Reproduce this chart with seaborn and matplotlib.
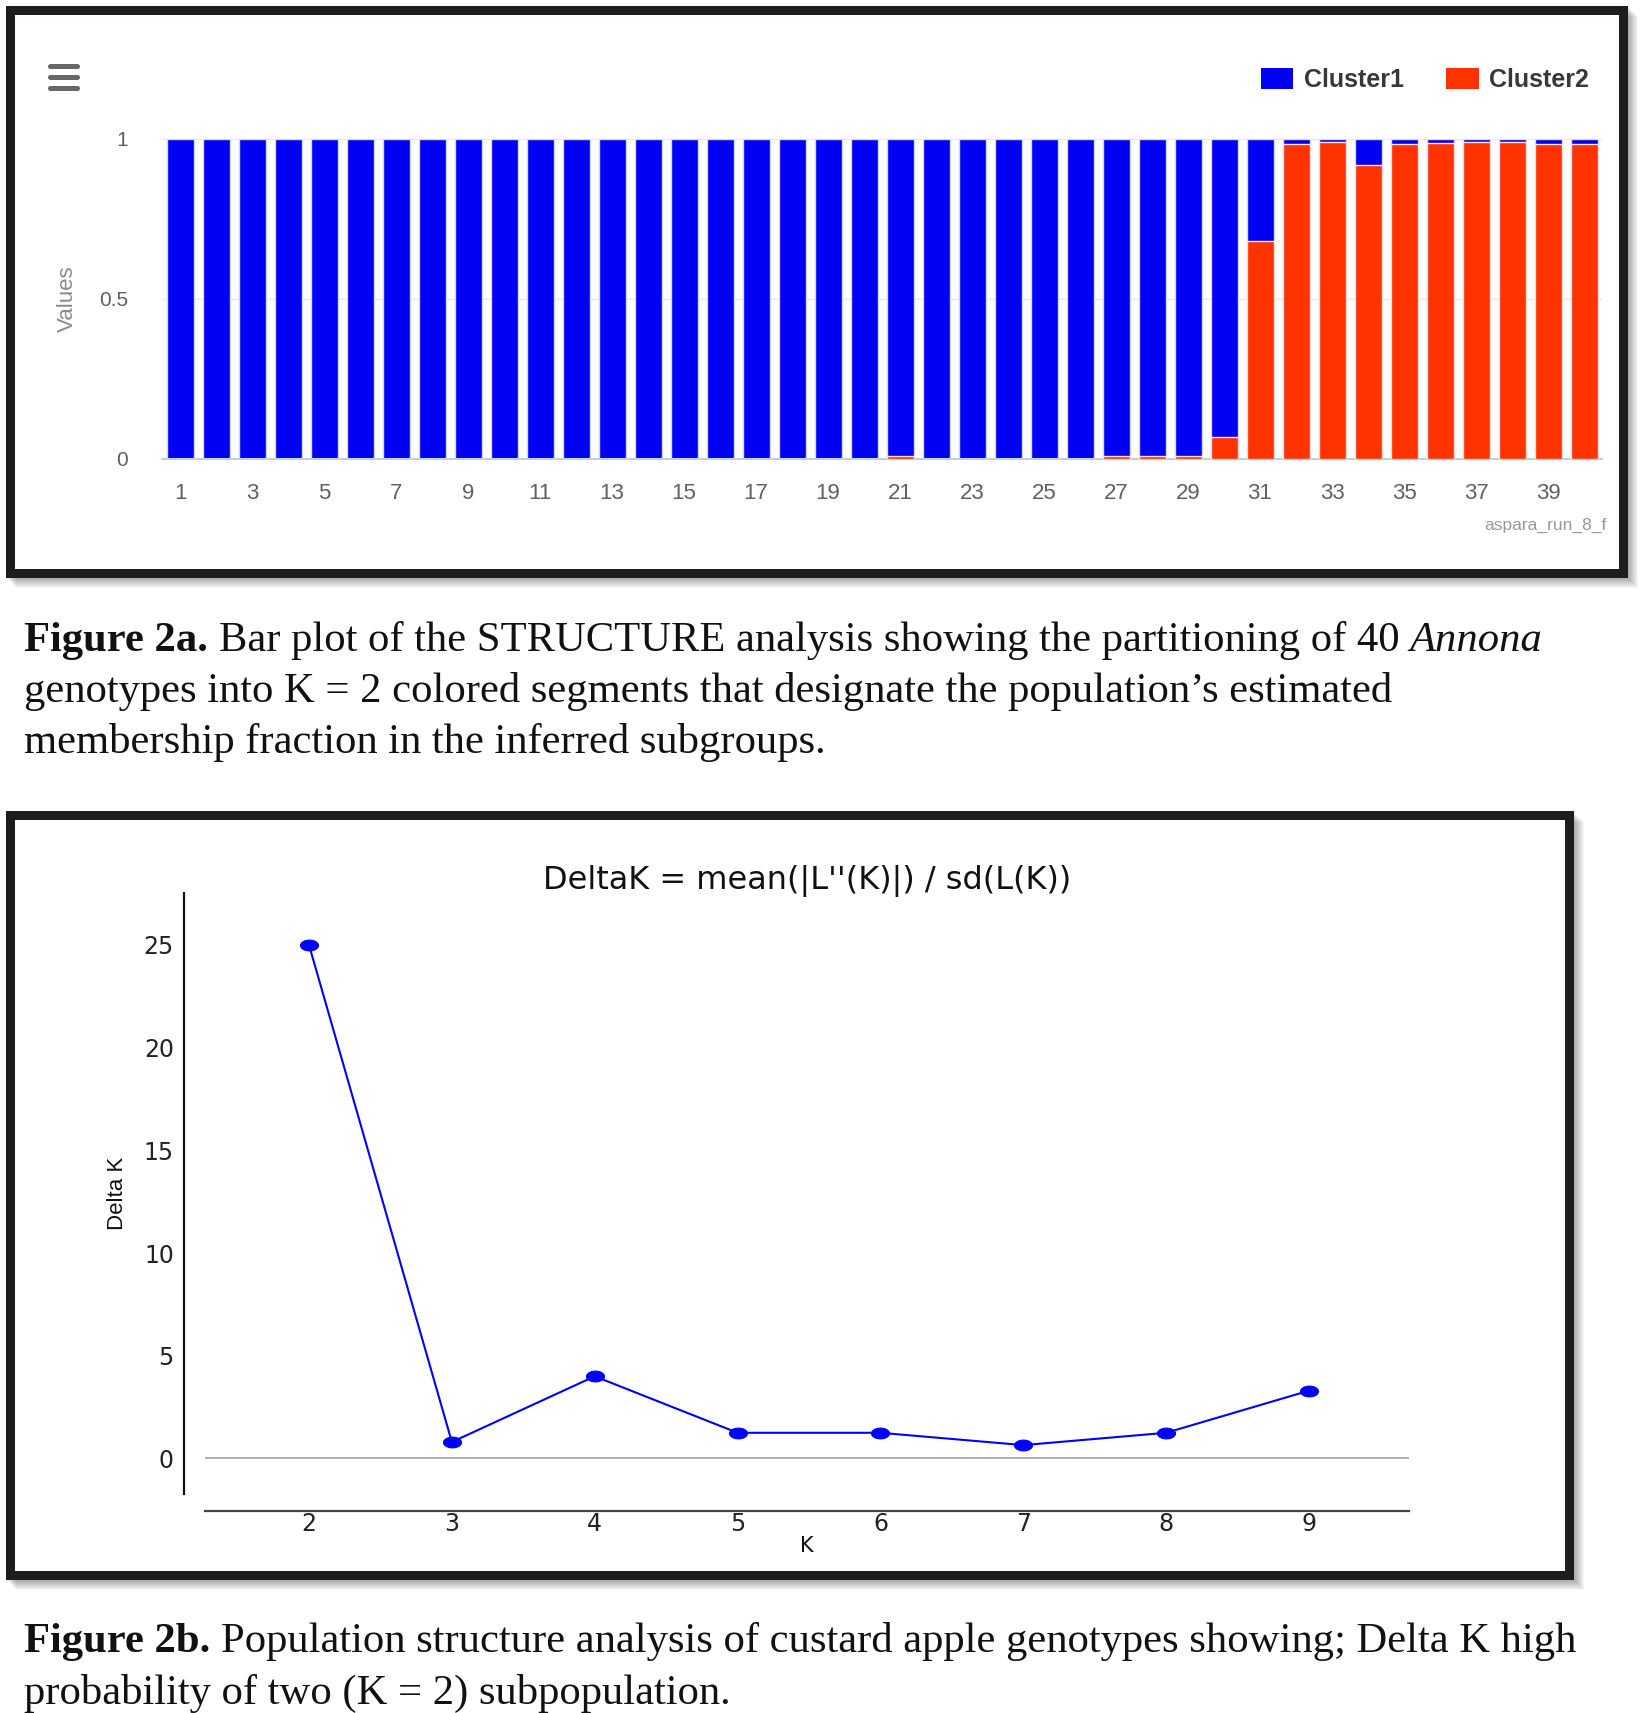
import matplotlib
matplotlib.use('Agg')
import numpy as np
import pandas as pd
import matplotlib.pyplot as plt
import seaborn as sns
from matplotlib.patches import Rectangle, FancyBboxPatch, Patch
from matplotlib.path import Path

# ---------------- data ----------------
genotypes = list(range(1, 41))
cluster1 = [1.00, 1.00, 1.00, 1.00, 1.00, 1.00, 1.00, 1.00, 1.00, 1.00,
            1.00, 1.00, 1.00, 1.00, 1.00, 1.00, 1.00, 1.00, 1.00, 1.00,
            0.99, 1.00, 1.00, 1.00, 1.00, 1.00, 0.99, 0.99, 0.99, 0.93,
            0.32, 0.015, 0.01, 0.08, 0.015, 0.012, 0.01, 0.01, 0.015, 0.015]
cluster2 = [0.00, 0.00, 0.00, 0.00, 0.00, 0.00, 0.00, 0.00, 0.00, 0.00,
            0.00, 0.00, 0.00, 0.00, 0.00, 0.00, 0.00, 0.00, 0.00, 0.00,
            0.01, 0.00, 0.00, 0.00, 0.00, 0.00, 0.01, 0.01, 0.01, 0.07,
            0.68, 0.985, 0.99, 0.92, 0.985, 0.988, 0.99, 0.99, 0.985, 0.985]
xtick_labels_a = ['1', '3', '5', '7', '9', '11', '13', '15', '17', '19',
                  '21', '23', '25', '27', '29', '31', '33', '35', '37', '39']
ytick_values_a = [0, 0.5, 1]
ytick_labels_a = ['0', '0.5', '1']
legend_labels = ['Cluster1', 'Cluster2']

k_values = [2, 3, 4, 5, 6, 7, 8, 9]
delta_k = [25.0, 0.8, 4.0, 1.25, 1.25, 0.65, 1.25, 3.3]
yticks_b = [0, 5, 10, 15, 20, 25]
xticks_b = [2, 3, 4, 5, 6, 7, 8, 9]

BLUE = '#0000F2'
RED = '#FF3300'

# ---------------- figure ----------------
sns.set_style('white')
plt.rcParams['font.family'] = ['DejaVu Sans']
W, H = 1646, 1713
DPI = 100
fig = plt.figure(figsize=(W / DPI, H / DPI), dpi=DPI)
PT = 72.0 / DPI  # points per pixel


def box(x0, y0, x1, y1):
    return [x0 / W, 1 - y1 / H, (x1 - x0) / W, (y1 - y0) / H]


def frame(x0, y0, x1, y1, lw_px=9):
    # soft shadow
    for i in range(1, 12):
        fig.add_artist(Rectangle(((x0 + i) / W, 1 - (y1 + i) / H), (x1 - x0) / W, (y1 - y0) / H,
                                 transform=fig.transFigure, facecolor='black', edgecolor='none',
                                 alpha=0.035, zorder=-5))
    h = lw_px / 2
    fig.add_artist(Rectangle(((x0 + h) / W, 1 - (y1 - h) / H), (x1 - x0 - lw_px) / W,
                             (y1 - y0 - lw_px) / H, transform=fig.transFigure,
                             facecolor='white', edgecolor='#1e1c1d', linewidth=lw_px * PT,
                             zorder=-4, joinstyle='miter'))


frame(5, 5, 1627, 577)
frame(5, 811, 1573, 1579)

narrow = ['Liberation Sans Narrow', 'Liberation Sans', 'DejaVu Sans']

# ---------------- Figure 2a: stacked bar ----------------
ax1 = fig.add_axes(box(162, 139, 1602, 459))
ax1.set_facecolor('none')
totals = np.add(cluster1, cluster2)
df = pd.DataFrame({'genotype': genotypes, 'total': totals, 'c2': cluster2})
sns.barplot(data=df, x='genotype', y='total', color=BLUE, saturation=1, width=0.75,
            edgecolor='#D8D8FF', linewidth=1.0, errorbar=None, ax=ax1, zorder=2)
sns.barplot(data=df, x='genotype', y='c2', color=RED, saturation=1, width=0.75,
            edgecolor='#FFE0E0', linewidth=1.0, errorbar=None, ax=ax1, zorder=3)
ax1.set_xlim(-0.5, len(genotypes) - 0.5)
ax1.set_ylim(0, 1)
ax1.set_axisbelow(True)
ax1.yaxis.grid(True, color='#E8E8E8', lw=1)
ax1.xaxis.grid(False)
for s in ['top', 'right', 'left']:
    ax1.spines[s].set_visible(False)
ax1.spines['bottom'].set_color('#C0D0E0')
ax1.spines['bottom'].set_linewidth(1.5)
xpos = [genotypes.index(int(l)) for l in xtick_labels_a]
ax1.set_xticks(xpos)
ax1.set_xticklabels(xtick_labels_a, family=narrow, fontsize=16, color='#606060')
ax1.tick_params(axis='x', length=18 * PT, width=1, color='#C0D0E0', pad=4, direction='out')
ax1.set_yticks(ytick_values_a)
ax1.set_yticklabels(ytick_labels_a, family=narrow, fontsize=15, color='#606060')
ax1.tick_params(axis='y', length=0, pad=34 * PT)
ax1.set_xlabel('')
ax1.set_ylabel('Values', family=['Liberation Sans', 'DejaVu Sans'], fontsize=16, color='#8a8a8a')
ax1.yaxis.set_label_coords(-0.0655, 0.5)
ax1.yaxis.label.set_va('center')

handles = [Patch(facecolor=BLUE, edgecolor='none'), Patch(facecolor=RED, edgecolor='none')]
leg = ax1.legend(handles, legend_labels, ncol=2, loc='center right',
                 bbox_to_anchor=(1589 / W, 1 - 80 / H), bbox_transform=fig.transFigure,
                 frameon=False, prop={'family': ['Liberation Sans', 'DejaVu Sans'], 'size': 18, 'weight': 'bold'},
                 handlelength=1.3, handleheight=0.95, handletextpad=0.42, columnspacing=1.7,
                 borderpad=0, borderaxespad=0)
for t in leg.get_texts():
    t.set_color('#383838')

# menu icon
for yy in (64, 75, 86):
    fig.add_artist(FancyBboxPatch((48 / W, 1 - (yy + 5) / H), 32 / W, 5 / H,
                                  boxstyle='round,pad=0,rounding_size=0.0015',
                                  transform=fig.transFigure, facecolor='#666666',
                                  edgecolor='none', zorder=5))

fig.text(1607 / W, 1 - 525 / H, 'aspara_run_8_f', ha='right', va='center',
         family=['Liberation Sans', 'DejaVu Sans'], fontsize=12.5, color='#999999')

# ---------------- Figure 2b: Delta K line ----------------
ax2 = fig.add_axes(box(205, 893, 1409, 1494))
ax2.set_facecolor('none')
ax2.axhline(0, color='#AAAAAA', lw=1.3, zorder=1)
theta = np.linspace(0, 2 * np.pi, 60)
ellipse = Path(np.column_stack([np.cos(theta), 0.6 * np.sin(theta)]), closed=True)
sns.lineplot(x=k_values, y=delta_k, color='#0000FF', lw=1.5, marker=ellipse,
             markersize=13, markeredgecolor='#0000FF', markerfacecolor='#0000FF',
             ax=ax2, zorder=3)
ax2.set_xlim(1.272, 9.70)
ax2.set_ylim(-1.73, 27.53)
for s in ['top', 'right']:
    ax2.spines[s].set_visible(False)
ax2.spines['left'].set_position(('outward', 21 * PT))
ax2.spines['bottom'].set_position(('outward', 17 * PT))
ax2.spines['left'].set_color('#111111')
ax2.spines['bottom'].set_color('#444444')
ax2.spines['left'].set_linewidth(1.6)
ax2.spines['bottom'].set_linewidth(1.6)
ax2.set_xticks(xticks_b)
ax2.set_xticklabels([str(k) for k in xticks_b], fontsize=17, color='#222222')
ax2.set_yticks(yticks_b)
ax2.set_yticklabels([str(v) for v in yticks_b], fontsize=17, color='#222222')
ax2.tick_params(axis='x', direction='in', length=6 * PT * 1.4, width=1, color='#444444', pad=1)
ax2.tick_params(axis='y', direction='inout', length=12 * PT, width=1, color='#111111', pad=3)
ax2.set_title("DeltaK = mean(|L''(K)|) / sd(L(K))", fontsize=23, color='#111111', pad=3)
ax2.set_xlabel('K', fontsize=15, color='#111111')
ax2.xaxis.set_label_coords(0.5, -0.0865)
ax2.xaxis.label.set_va('center')
ax2.set_ylabel('Delta K', family=narrow, fontsize=16, color='#111111')
ax2.yaxis.set_label_coords(-0.073, 0.5)
ax2.yaxis.label.set_va('center')

# ---------------- captions ----------------
renderer = fig.canvas.get_renderer()
CAP_SIZE = 30.7
serif = ['Liberation Serif', 'DejaVu Serif']


def draw_runs(runs, x, y, size=CAP_SIZE):
    space = 0.25 * size / PT
    for i, (text, weight, style) in enumerate(runs):
        if i > 0:
            x += space
        t = fig.text(x / W, 1 - y / H, text, fontsize=size, family=serif, weight=weight,
                     style=style, va='baseline', ha='left', color='#111111')
        x += t.get_window_extent(renderer).width


draw_runs([('Figure 2a.', 'bold', 'normal'),
           ('Bar plot of the STRUCTURE analysis showing the partitioning of 40', 'normal', 'normal'),
           ('Annona', 'normal', 'italic')], 24, 651)
draw_runs([('genotypes into K = 2 colored segments that designate the population\u2019s estimated',
            'normal', 'normal')], 24, 702)
draw_runs([('membership fraction in the inferred subgroups.', 'normal', 'normal')], 24, 753)
draw_runs([('Figure 2b.', 'bold', 'normal'),
           ('Population structure analysis of custard apple genotypes showing; Delta K high',
            'normal', 'normal')], 24, 1652)
draw_runs([('probability of two (K = 2) subpopulation.', 'normal', 'normal')], 24, 1704)

fig.savefig('out.png', dpi=DPI)
